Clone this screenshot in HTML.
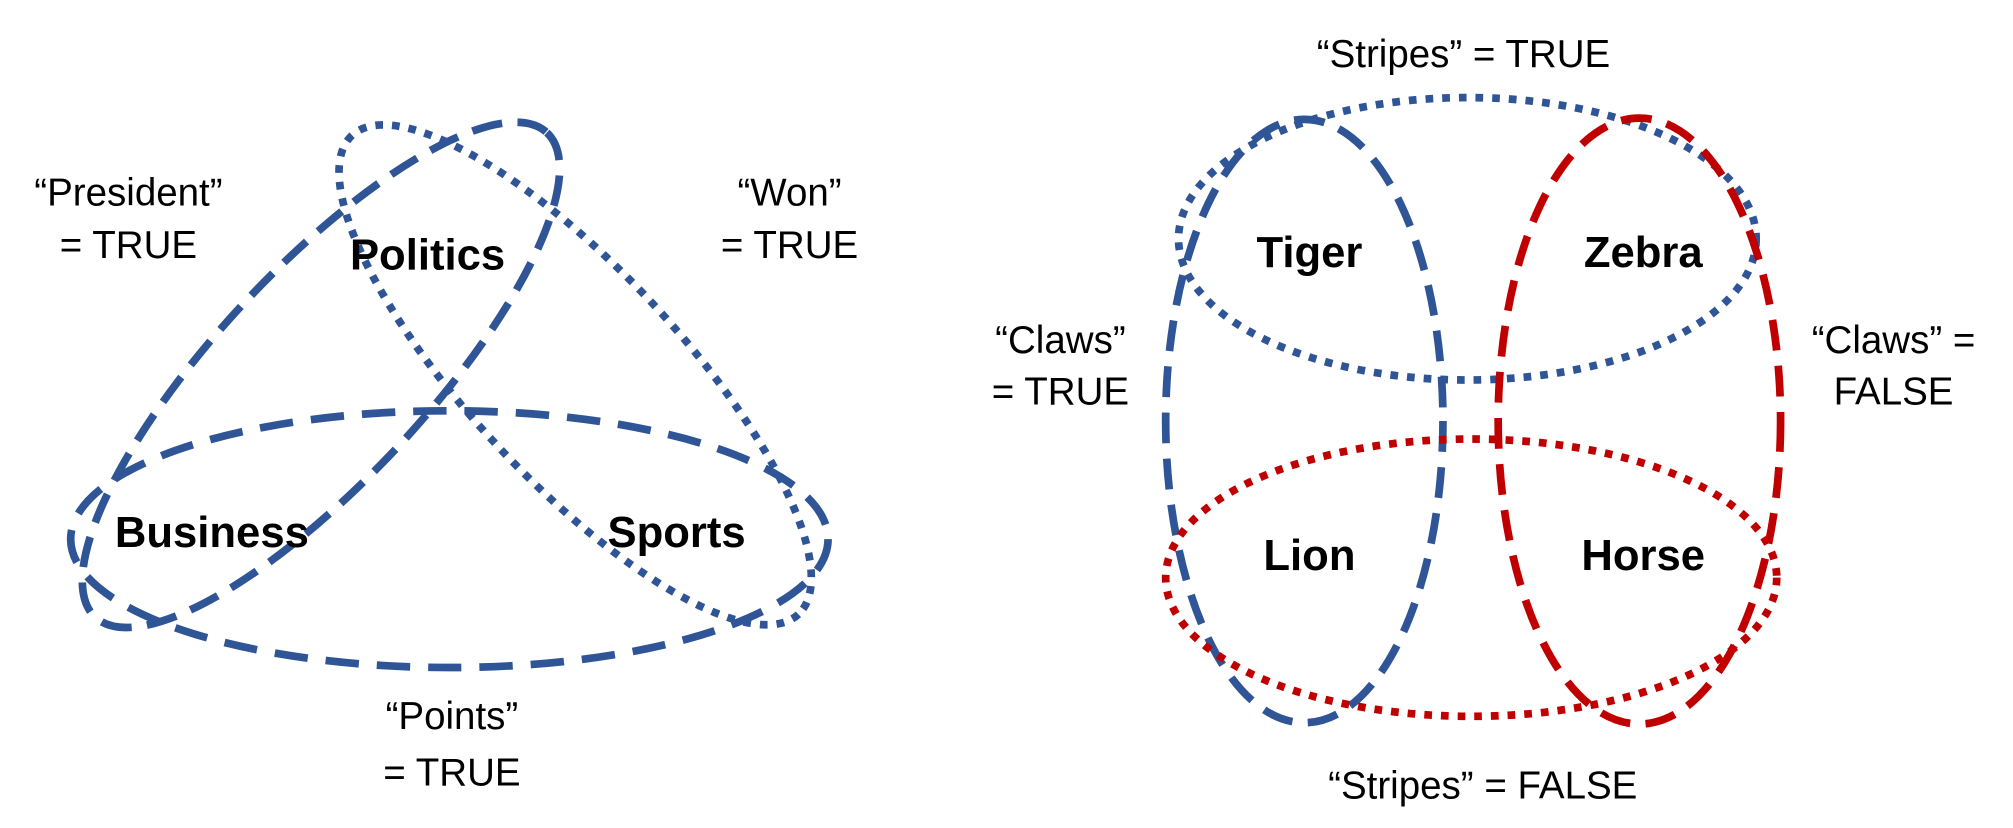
<!DOCTYPE html>
<html><head><meta charset="utf-8"><style>
html,body{margin:0;padding:0;background:#fff}
svg{display:block}
text{font-family:"Liberation Sans",Arial,sans-serif;fill:#000}
.l{font-size:30px}
.b{font-size:34px;font-weight:bold}
</style></head><body>
<svg width="2013" height="828" viewBox="0 0 1568 645" xmlns="http://www.w3.org/2000/svg">
<g fill="none" stroke-width="6">
<ellipse cx="448" cy="292" rx="255" ry="82" transform="rotate(47 448 292)" stroke="#2f5597" stroke-dasharray="6 7"/>
<ellipse cx="250" cy="292" rx="258" ry="82" transform="rotate(-47 250 292)" stroke="#2f5597" stroke-dasharray="24 12"/>
<ellipse cx="350" cy="420" rx="295" ry="100" stroke="#2f5597" stroke-dasharray="26 14"/>
<ellipse cx="1143" cy="186" rx="225" ry="110" stroke="#2f5597" stroke-dasharray="6 7"/>
<ellipse cx="1016" cy="328" rx="108" ry="235" stroke="#2f5597" stroke-dasharray="24 12"/>
<ellipse cx="1277" cy="328" rx="110" ry="236" stroke="#c00000" stroke-dasharray="24 12"/>
<ellipse cx="1146" cy="450" rx="238" ry="108" stroke="#c00000" stroke-dasharray="6 7"/>
</g>
<g text-anchor="middle">
<text class="l" x="100" y="160">“President”</text>
<text class="l" x="100" y="201">= TRUE</text>
<text class="l" x="615" y="160">“Won”</text>
<text class="l" x="615" y="201">= TRUE</text>
<text class="l" x="352" y="568">“Points”</text>
<text class="l" x="352" y="612">= TRUE</text>
<text class="b" x="333" y="210">Politics</text>
<text class="b" x="165" y="426">Business</text>
<text class="b" x="527" y="426">Sports</text>
<text class="l" x="1140" y="52">“Stripes” = TRUE</text>
<text class="l" x="1155" y="622">“Stripes” = FALSE</text>
<text class="l" x="826" y="275">“Claws”</text>
<text class="l" x="826" y="315">= TRUE</text>
<text class="l" x="1475" y="275">“Claws” =</text>
<text class="l" x="1475" y="315">FALSE</text>
<text class="b" x="1020" y="208">Tiger</text>
<text class="b" x="1280" y="208">Zebra</text>
<text class="b" x="1020" y="444">Lion</text>
<text class="b" x="1280" y="444">Horse</text>
</g>
</svg>
</body></html>
